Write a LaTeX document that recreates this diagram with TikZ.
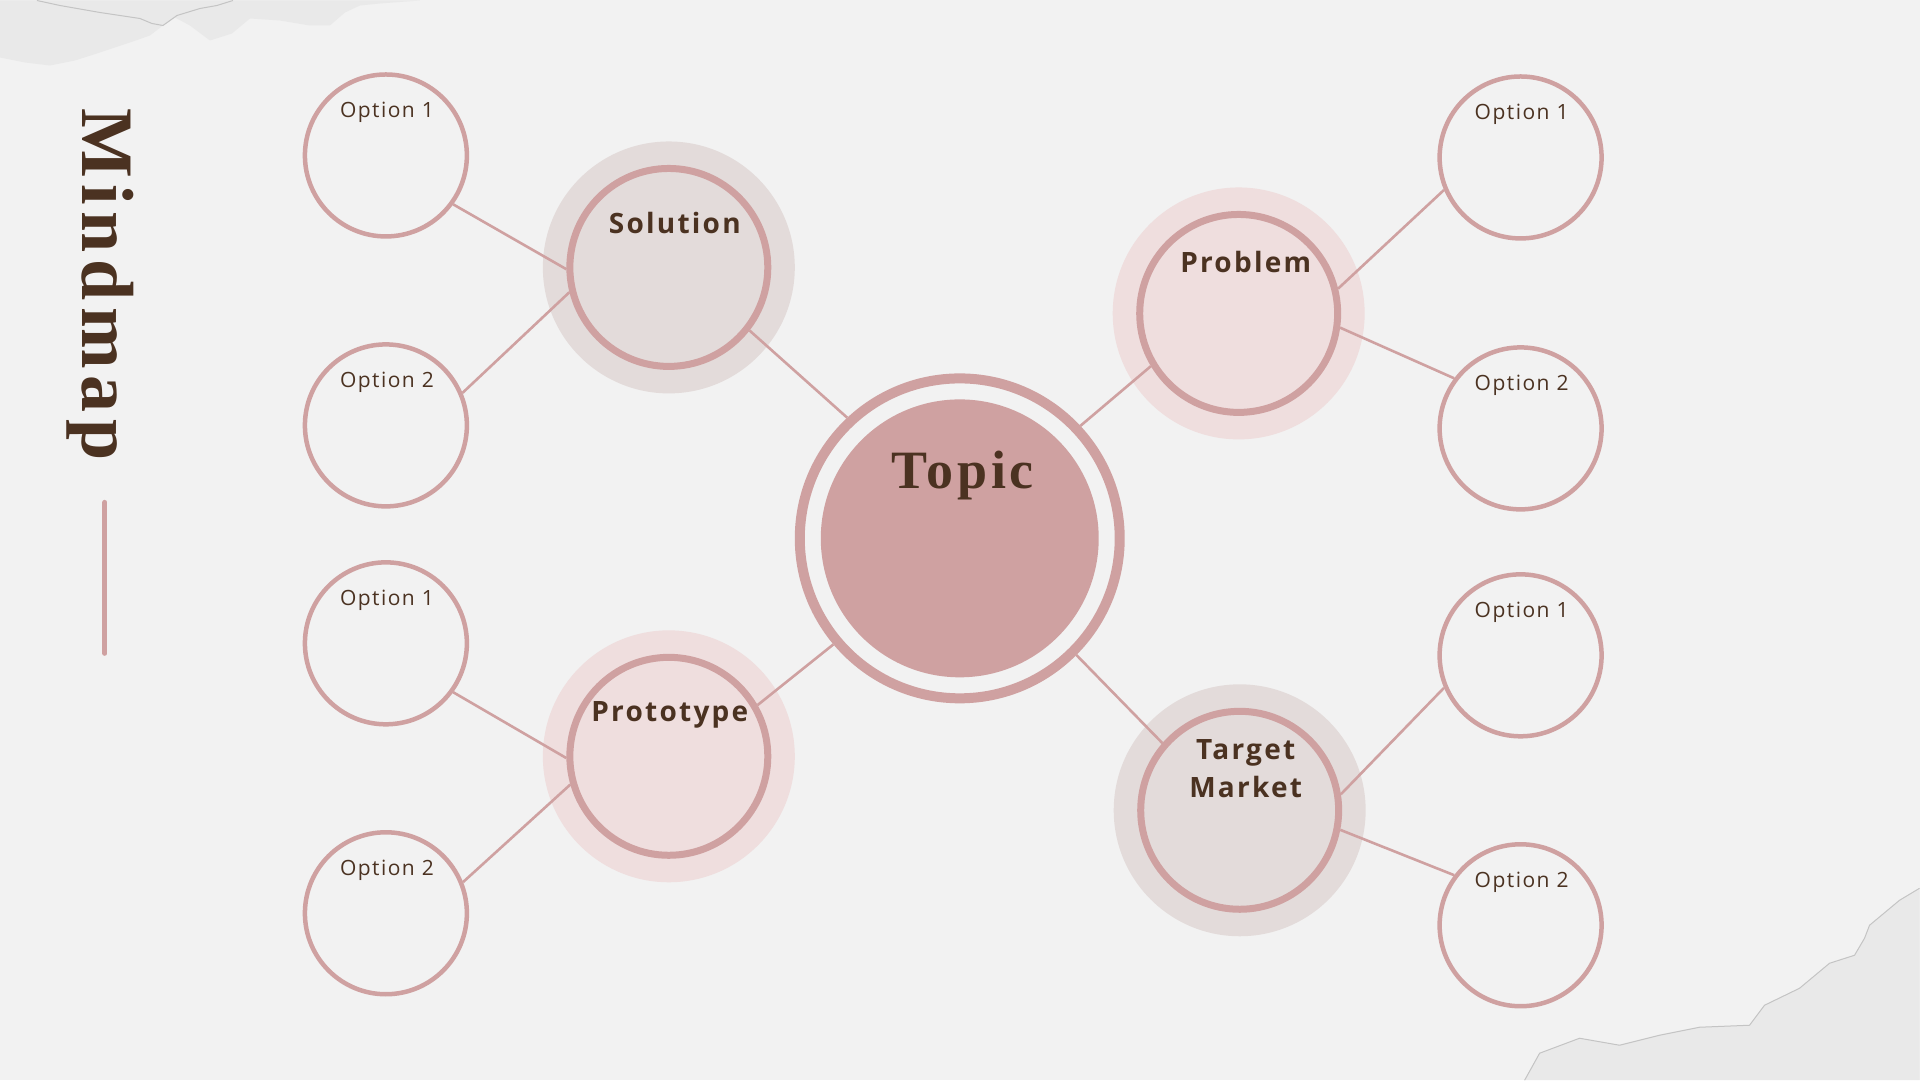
\documentclass[tikz,border=0pt]{standalone}
\usepackage{fontspec}
\usetikzlibrary{calc}
\newfontfamily\optfont{Open Sans}[LetterSpace=7]
\newfontfamily\headfont{Open Sans}[LetterSpace=8]
\newfontfamily\topicfont{Liberation Serif}[LetterSpace=7]
\newfontfamily\titlefont{Liberation Serif}[LetterSpace=9]
\definecolor{bgcol}{HTML}{F2F2F2}
\definecolor{rosecol}{HTML}{CFA1A1}
\definecolor{taupecol}{HTML}{E3DBDA}
\definecolor{pinkcol}{HTML}{EFDEDE}
\definecolor{browncol}{HTML}{4B3221}
\definecolor{papercol}{HTML}{E9E9E9}
\definecolor{tearcol}{HTML}{C4C4C4}

\begin{document}
\begin{tikzpicture}[
  x=1pt, y=-1pt,
  opt/.style={circle, draw=rosecol, line width=4.5pt, minimum size=162pt, inner sep=0pt},
  halo/.style={circle, fill=#1, minimum size=252pt, inner sep=0pt},
  ring/.style={circle, draw=rosecol, fill=#1, line width=7pt, minimum size=198pt, inner sep=0pt},
  link/.style={draw=rosecol, line width=2.6pt},
  opttext/.style={anchor=base, text=browncol, inner sep=0pt,
                  font=\optfont\fontsize{21}{25}\selectfont},
  headtext/.style={anchor=base, text=browncol, inner sep=0pt,
                   font=\headfont\bfseries\fontsize{28}{34}\selectfont},
  paper/.style={fill=papercol},
  tear/.style={draw=tearcol, line width=1pt}
]

% background and torn paper corners
\fill[bgcol] (0,0) rectangle (1920,1080);
\fill[paper] (0,0) -- (420,0) -- (380,3) -- (360,5) -- (345,12) -- (330,25) -- (310,25)
  -- (280,20) -- (250,18) -- (232,33) -- (210,40) -- (190,25) -- (175,17) -- (163,25)
  -- (150,35) -- (130,42) -- (100,52) -- (75,60) -- (50,65) -- (25,62) -- (0,57) -- cycle;
\draw[tear] (37,0) -- (60,5) -- (100,12) -- (140,18) -- (152,23) -- (163,25) -- (177,15)
  -- (200,8) -- (217,5) -- (233,0);
\fill[paper] (1525,1080) -- (1540,1053) -- (1580,1038) -- (1620,1045) -- (1660,1035)
  -- (1700,1027) -- (1750,1025) -- (1765,1005) -- (1800,988) -- (1830,963) -- (1855,955)
  -- (1865,938) -- (1870,925) -- (1900,900) -- (1920,888) -- (1920,1080) -- cycle;
\draw[tear] (1525,1080) -- (1540,1053) -- (1580,1038) -- (1620,1045) -- (1660,1035)
  -- (1700,1027) -- (1750,1025) -- (1765,1005) -- (1800,988) -- (1830,963) -- (1855,955)
  -- (1865,938) -- (1870,925) -- (1900,900) -- (1920,888);

% title
\node[rotate=-90, anchor=base, inner sep=0pt, text=browncol,
      font=\titlefont\bfseries\fontsize{74}{80}\selectfont] (title) at (83,284) {Mindmap};
\coordinate (bar_top) at (105,502);
\coordinate (bar_bot) at (105,653);
\draw[rosecol, line width=5pt, line cap=round] (bar_top) -- (bar_bot);

% =======================================================
%                     MAIN COMPONENTS
% =======================================================
\node[circle, draw=rosecol, fill=bgcol, line width=10pt, minimum size=320pt,
      inner sep=0pt] (topic) at (960,538) {};
\node[circle, fill=rosecol, minimum size=278pt, inner sep=0pt] (topicfill) at (topic) {};
\node[anchor=base, inner sep=0pt, text=browncol,
      font=\topicfont\bfseries\fontsize{54}{60}\selectfont] (topictext) at (963,488) {Topic};

% sub topics
\node[halo=taupecol] (solhalo) at (669,267) {};
\node[ring=taupecol] (sol) at (solhalo) {};
\node[headtext] (soltext) at ($(sol)+(6,-34)$) {Solution};

\node[halo=pinkcol] (probhalo) at (1239,313) {};
\node[ring=pinkcol] (prob) at (probhalo) {};
\node[headtext] (probtext) at ($(prob)+(7,-41)$) {Problem};

\node[halo=pinkcol] (protohalo) at (669,756) {};
\node[ring=pinkcol] (proto) at (protohalo) {};
\node[headtext] (prototext) at ($(proto)+(1,-35)$) {Prototype};

\node[halo=taupecol] (markhalo) at (1240,810) {};
\node[ring=taupecol] (mark) at (markhalo) {};
\node[headtext] (marktext) at ($(mark)+(6,-51)$) {Target};
\node[headtext] (marktext2) at ($(mark)+(6,-13)$) {Market};

% options
\node[opt] (sol1) at (386,155) {};
\node[opt] (sol2) at (386,425) {};
\node[opt] (proto1) at (386,643) {};
\node[opt] (proto2) at (386,913) {};
\node[opt] (prob1) at (1521,157) {};
\node[opt] (prob2) at (1521,428) {};
\node[opt] (mark1) at (1521,655) {};
\node[opt] (mark2) at (1521,925) {};

\node[opttext] (sol1text) at ($(sol1)+(1,-38)$) {Option 1};
\node[opttext] (sol2text) at ($(sol2)+(1,-38)$) {Option 2};
\node[opttext] (proto1text) at ($(proto1)+(1,-38)$) {Option 1};
\node[opttext] (proto2text) at ($(proto2)+(1,-38)$) {Option 2};
\node[opttext] (prob1text) at ($(prob1)+(1,-38)$) {Option 1};
\node[opttext] (prob2text) at ($(prob2)+(1,-38)$) {Option 2};
\node[opttext] (mark1text) at ($(mark1)+(1,-38)$) {Option 1};
\node[opttext] (mark2text) at ($(mark2)+(1,-38)$) {Option 2};

% =======================================================
%                     CONNECTIONS
% =======================================================
\draw[link] (topic.133) -- (sol.-38);
\draw[link] (topic.43) -- (prob.211);
\draw[link] (topic.220) -- (proto.30);
\draw[link] (topic.-45) -- (mark.139);

\draw[link] (sol1.-36) -- (sol.181);
\draw[link] (sol2.23) -- (sol.194);
\draw[link] (proto1.-36) -- (proto.181);
\draw[link] (proto2.22) -- (proto.196);
\draw[link] (prob1.203) -- (prob.14);
\draw[link] (prob2.143) -- (prob.-8);
\draw[link] (mark1.203) -- (mark.9);
\draw[link] (mark2.143) -- (mark.-11);

\end{tikzpicture}
\end{document}
